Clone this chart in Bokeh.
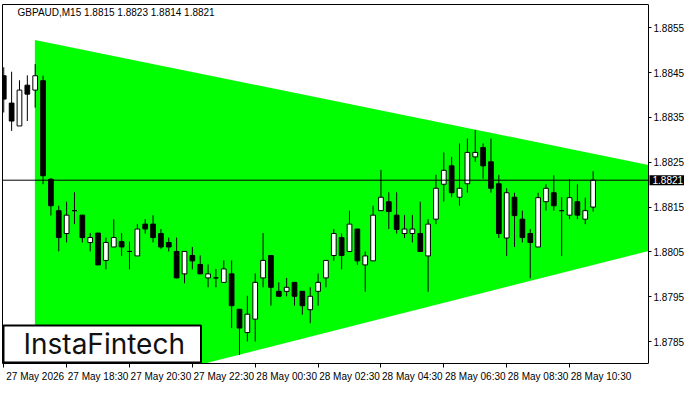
from bokeh.plotting import figure
from bokeh.models import (FixedTicker, Label, ColumnDataSource, LinearAxis,
                          PrintfTickFormatter)
from bokeh.embed import file_html
from bokeh.resources import INLINE

chart_title = "GBPAUD,M15  1.8815 1.8823 1.8814 1.8821"
logo_text = "InstaFintech"

opens = [1.88443, 1.88382, 1.88331, 1.88422, 1.88411, 1.88432, 1.88212, 1.88142, 1.88091, 1.88142,
         1.88132, 1.88071, 1.88092, 1.88031, 1.88061, 1.88073, 1.88051, 1.88041, 1.88112, 1.88112,
         1.88091, 1.88071, 1.88051, 1.88001, 1.88042, 1.88022, 1.87992, 1.87992, 1.87982, 1.88001,
         1.87922, 1.87870, 1.87900, 1.87992, 1.88042, 1.87962, 1.87962, 1.87982, 1.87962, 1.87921,
         1.87962, 1.87992, 1.88042, 1.88082, 1.88051, 1.88101, 1.88021, 1.88030, 1.88142, 1.88162,
         1.88132, 1.88091, 1.88091, 1.88091, 1.88041, 1.88123, 1.88201, 1.88242, 1.88172, 1.88202,
         1.88262, 1.88283, 1.88251, 1.88202, 1.88081, 1.88172, 1.88123, 1.88091, 1.88061, 1.88162,
         1.88182, 1.88142, 1.88132, 1.88162, 1.88123, 1.8815]
highs = [1.88462, 1.88452, 1.88433, 1.88444, 1.88469, 1.88443, 1.88215, 1.88153, 1.88162, 1.88183,
         1.88132, 1.88092, 1.88092, 1.88082, 1.88123, 1.88092, 1.88073, 1.88112, 1.88123, 1.88132,
         1.88101, 1.88082, 1.88082, 1.88051, 1.88061, 1.88042, 1.88022, 1.88012, 1.88031, 1.88031,
         1.87922, 1.87952, 1.88002, 1.88092, 1.88042, 1.87982, 1.87992, 1.87982, 1.87962, 1.87971,
         1.88002, 1.88031, 1.88101, 1.88091, 1.88142, 1.88101, 1.88051, 1.88153, 1.88233, 1.88183,
         1.88183, 1.88132, 1.88132, 1.88162, 1.88123, 1.88222, 1.88272, 1.88262, 1.88292, 1.88303,
         1.88322, 1.88292, 1.88303, 1.88222, 1.88192, 1.88182, 1.88142, 1.88101, 1.88182, 1.88201,
         1.88221, 1.88172, 1.88212, 1.88201, 1.88171, 1.8823]
lows = [1.88361, 1.88320, 1.88331, 1.88342, 1.88372, 1.88201, 1.88131, 1.88051, 1.88071, 1.88112,
        1.88071, 1.88051, 1.88021, 1.88011, 1.88061, 1.88041, 1.88011, 1.88041, 1.88091, 1.88071,
        1.88057, 1.88051, 1.87991, 1.87980, 1.88011, 1.88001, 1.87971, 1.87971, 1.87982, 1.87880,
        1.87820, 1.87850, 1.87850, 1.87971, 1.87930, 1.87951, 1.87951, 1.87930, 1.87910, 1.87891,
        1.87930, 1.87971, 1.88030, 1.88011, 1.88051, 1.88021, 1.87961, 1.88030, 1.88142, 1.88101,
        1.88091, 1.88081, 1.88071, 1.88051, 1.87961, 1.88112, 1.88162, 1.88172, 1.88153, 1.88182,
        1.88251, 1.88213, 1.88182, 1.88081, 1.88041, 1.88061, 1.88071, 1.87991, 1.88061, 1.88142,
        1.88142, 1.88041, 1.88123, 1.88123, 1.88112, 1.8814]
closes = [1.88391, 1.88342, 1.88411, 1.88402, 1.88443, 1.88220, 1.88153, 1.88082, 1.88132, 1.88142,
          1.88082, 1.88082, 1.88021, 1.88071, 1.88082, 1.88061, 1.88051, 1.88101, 1.88101, 1.88082,
          1.88061, 1.88061, 1.87992, 1.88051, 1.88030, 1.88001, 1.88001, 1.87992, 1.88012, 1.87930,
          1.87880, 1.87911, 1.87982, 1.88031, 1.87971, 1.87951, 1.87971, 1.87951, 1.87930, 1.87951,
          1.87982, 1.88031, 1.88091, 1.88042, 1.88112, 1.88030, 1.88041, 1.88132, 1.88172, 1.88140,
          1.88100, 1.88101, 1.88101, 1.88051, 1.88112, 1.88192, 1.88232, 1.88182, 1.88192, 1.88272,
          1.88272, 1.88242, 1.88192, 1.88091, 1.88182, 1.88131, 1.88082, 1.88071, 1.88171, 1.88192,
          1.88153, 1.88142, 1.88171, 1.88132, 1.88142, 1.8821]

time_tick_index = [0, 8, 16, 24, 32, 40, 48, 56, 64, 72]
time_tick_labels = ["27 May 2026", "27 May 18:30", "27 May 20:30", "27 May 22:30", "28 May 00:30",
                    "28 May 02:30", "28 May 04:30", "28 May 06:30", "28 May 08:30", "28 May 10:30"]
price_ticks = [1.8785, 1.8795, 1.8805, 1.8815, 1.8825, 1.8835, 1.8845, 1.8855]
last_price = 1.8821

pattern_x = [3.96, 82.05]
pattern_upper = [1.88523, 1.88244]
pattern_lower = [1.87705, 1.88052]

chart_right = 82.05          # right edge of the price chart area (index units)
x_view = (-0.16, 86.63)      # includes the price scale strip on the right
y_view = (1.87801, 1.88602)

FONT = "Liberation Sans"
LABEL_SHIFT = 4  # MT4 draws time labels to the right of their tick

p = figure(width=684, height=384, x_range=x_view, y_range=y_view,
           output_backend="svg", toolbar_location=None, y_axis_location=None,
           min_border_left=2, min_border_top=4, min_border_right=0, min_border_bottom=0)
p.background_fill_color = "white"
p.border_fill_color = "white"
p.outline_line_color = None
p.xgrid.visible = False
p.ygrid.visible = False

# triangle pattern
p.patch(x=[pattern_x[0], pattern_x[1], pattern_x[1], pattern_x[0]],
        y=[pattern_upper[0], pattern_upper[1], pattern_lower[1], pattern_lower[0]],
        fill_color="#00FF00", line_color=None)

idx = list(range(len(opens)))
tops = [max(o, c) for o, c in zip(opens, closes)]
bottoms = [min(o, c) for o, c in zip(opens, closes)]
colors = ["white" if c >= o else "black" for o, c in zip(opens, closes)]
src = ColumnDataSource(dict(x=idx, high=highs, low=lows, top=tops, bottom=bottoms, color=colors))

p.segment(x0="x", y0="high", x1="x", y1="low", source=src, line_color="black", line_width=1)
p.vbar(x="x", top="top", bottom="bottom", width=0.6, source=src,
       fill_color="color", line_color="black", line_width=1)

# current price line
p.segment(x0=[x_view[0]], y0=[last_price], x1=[chart_right], y1=[last_price],
          line_color="black", line_width=1)

# time axis (bottom border of the chart): tick marks at the bars, labels to their right
xa = p.xaxis[0]
label_pos = [t + LABEL_SHIFT for t in time_tick_index]
xa.ticker = FixedTicker(ticks=label_pos, minor_ticks=time_tick_index)
xa.major_label_overrides = {pos: lab for pos, lab in zip(label_pos, time_tick_labels)}
xa.major_label_text_font = FONT
xa.major_label_text_font_size = "10px"
xa.major_label_text_color = "black"
xa.major_label_standoff = 3
xa.major_tick_out = 0
xa.major_tick_in = 0
xa.major_tick_line_color = None
xa.minor_tick_line_color = "black"
xa.minor_tick_out = 4
xa.minor_tick_in = 0
xa.axis_line_color = "black"
xa.bounds = (x_view[0], chart_right)

# top and left borders
top_border = LinearAxis(ticker=FixedTicker(ticks=[]), bounds=(x_view[0], chart_right),
                        axis_line_color="black", major_tick_line_color=None,
                        minor_tick_line_color=None)
p.add_layout(top_border, "above")
left_border = LinearAxis(ticker=FixedTicker(ticks=[]), axis_line_color="black",
                         major_tick_line_color=None, minor_tick_line_color=None)
p.add_layout(left_border, "left")

# price scale, drawn at the right edge of the chart area
ya = LinearAxis(ticker=FixedTicker(ticks=price_ticks),
                formatter=PrintfTickFormatter(format="%.4f"),
                fixed_location=chart_right)
ya.major_label_text_font = FONT
ya.major_label_text_font_size = "10px"
ya.major_label_text_color = "black"
ya.major_tick_out = 3
ya.major_tick_in = 0
ya.major_label_standoff = 2
ya.minor_tick_line_color = None
ya.axis_line_color = "black"
p.add_layout(ya, "right")

# current price box on the price scale
p.add_layout(Label(x=chart_right, y=last_price, x_offset=1, text=f"{last_price:.4f}",
                   text_align="left", text_baseline="middle", text_font=FONT,
                   text_font_size="10px", text_color="white",
                   background_fill_color="black",
                   padding=dict(left=3, right=3, top=1, bottom=1)))

p.add_layout(Label(x=x_view[0], y=y_view[1], x_offset=15, y_offset=-2, text=chart_title,
                   text_align="left", text_baseline="top", text_font=FONT,
                   text_font_size="10px", text_color="black"))

p.add_layout(Label(x=x_view[0], y=y_view[0], x_offset=1, y_offset=1, text=logo_text,
                   text_align="left", text_baseline="bottom", text_font="Inter",
                   text_font_size="28px", text_color="#111111",
                   background_fill_color="white", border_line_color="black",
                   border_line_width=2, padding=dict(left=20, right=16, top=1, bottom=2)))

open("out.html", "w").write(file_html(p, INLINE))
